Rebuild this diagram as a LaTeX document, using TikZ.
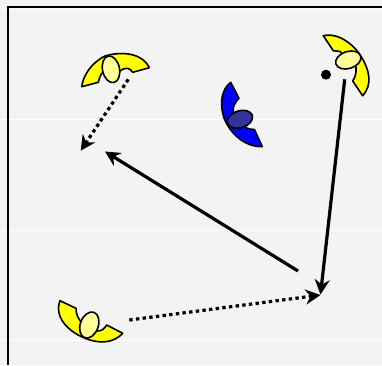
\documentclass[tikz,border=0pt]{standalone}
\usetikzlibrary{arrows.meta}
\definecolor{bgc}{HTML}{F3F3F3}
\definecolor{ylw}{HTML}{FFFF00}
\definecolor{pale}{HTML}{FFFF99}
\definecolor{blu}{HTML}{0000FF}
\definecolor{dblu}{HTML}{333399}
\tikzset{
  x=1pt,y=-1pt,
  petal/.style={draw=black,line width=1.6pt,line join=round},
  gridline/.style={white,line width=1pt},
  framel/.style={black,line width=1.8pt},
  solidarrow/.style={black,line width=3.2pt,-{Stealth[length=15pt,width=15pt,inset=5pt]}},
  dotarrow/.style={black,line width=3.2pt,dash pattern=on 3.4pt off 3.3pt,-{Stealth[length=15pt,width=15pt,inset=5pt]}},
}
\begin{document}
\begin{tikzpicture}
\useasboundingbox (0,0) rectangle (382,365);
\fill[bgc] (0,0) rectangle (382,365);
\foreach \yy in {9,119.5,230,340} \draw[gridline] (0,\yy) -- (382,\yy);
\draw[framel] (8.3,365) -- (8.3,6.8) -- (382,6.8);

% top-left yellow
\draw[petal,fill=ylw] (81.7,86.7) .. controls (83,76) and (91,63) .. (105,56)
  .. controls (118,52) and (141,51) .. (149.3,67.7)
  -- (132.7,72.3) .. controls (130,68) and (126,66.5) .. (120,71) -- (111,69)
  -- (101.7,73.3) .. controls (100,76) and (99,79) .. (98.3,82.3) -- cycle;
\draw[petal,fill=pale,rotate around={12:(111,69.3)}] (111,69.3) ellipse [x radius=8.5,y radius=13.5];

% blue
\draw[petal,fill=blu] (230.7,82.3) .. controls (222,89) and (219,102) .. (224,118)
  .. controls (230,133) and (244,147) .. (262.3,146.7)
  -- (254.3,129.3) .. controls (252,130) and (249,129) .. (246.7,128) -- (240,119)
  -- (235,115) .. controls (233,112) and (233,109) .. (233.3,107.3) .. controls (235,103) and (237,100) .. (239,98.3) -- cycle;
\draw[petal,fill=dblu,rotate around={18:(240,119.3)}] (240,119.3) ellipse [x radius=13,y radius=8.5];

% top-right yellow
\draw[petal,fill=ylw] (323.3,35.7) .. controls (340,32) and (356,47) .. (362,58)
  .. controls (369,70) and (373,84) .. (362.7,95.7)
  -- (352.7,81) .. controls (355,77) and (356.5,74) .. (356,67) -- (348,60)
  -- (340,51.5) .. controls (338,51) and (335,51) .. (333.3,50.7) -- cycle;
\draw[petal,fill=pale,rotate around={18:(348.3,60)}] (348.3,60) ellipse [x radius=13,y radius=8.5];
\coordinate (dotc) at (326,74.7);
\fill[black] (dotc) circle [radius=5];

% bottom-left yellow
\draw[petal,fill=ylw] (60,300.7) .. controls (56,311) and (60,322) .. (72,331)
  .. controls (84,340) and (108,349) .. (122.7,333.3)
  -- (106.7,325) .. controls (104,329) and (102,331) .. (97,331) -- (89,325)
  -- (81,322) .. controls (78,318) and (76,314) .. (76,308.3) -- cycle;
\draw[petal,fill=pale,rotate around={-20:(89.3,325)}] (89.3,325) ellipse [x radius=9,y radius=13.5];

% connector ends
\coordinate (a1) at (128.3,79.3);
\coordinate (a2) at (80.7,150.7);
\coordinate (b1) at (298,271);
\coordinate (b2) at (105,151.5);
\coordinate (c1) at (344.7,79.3);
\coordinate (c2) at (320.5,294.5);
\coordinate (d1) at (129.3,320);
\coordinate (d2) at (320.5,295);

\draw[dotarrow] (a1) -- (a2);
\draw[solidarrow] (b1) -- (b2);
\draw[solidarrow] (c1) -- (c2);
\draw[dotarrow] (d1) -- (d2);
\end{tikzpicture}
\end{document}
